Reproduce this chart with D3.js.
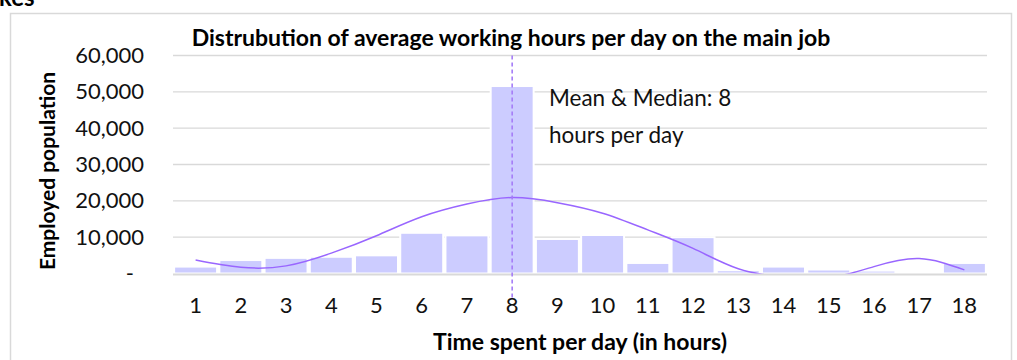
<!DOCTYPE html>
<html>
<head>
<meta charset="utf-8">
<script src="https://cdn.jsdelivr.net/npm/d3@7"></script>
<style>
  html, body { margin: 0; padding: 0; background: #fff; }
  svg { display: block; font-family: "Lato", "Noto Sans", sans-serif; }
</style>
</head>
<body>
<svg id="chart" width="1017" height="360"></svg>
<script>
// Hours worked per day (bins) and the employed population in each bin
const hours = [1, 2, 3, 4, 5, 6, 7, 8, 9, 10, 11, 12, 13, 14, 15, 16, 17, 18];
const population = [1900, 3700, 4300, 4600, 5000, 11200, 10500, 51600, 9500, 10600,
                    2900, 10000, 900, 1900, 1100, 800, 0, 2900];
// Smoothed trend through the distribution
const trend = [3700, 1700, 2100, 5600, 10400, 15600, 19100, 20900, 19500, 16600,
               12000, 6900, 1300, -1000, -1200, 1900, 4100, 1000];
const yTicks = [0, 10000, 20000, 30000, 40000, 50000, 60000];
const meanHours = 8;

const svg = d3.select("#chart");

const plot = { left: 173, right: 987, top: 55.5, bottom: 273.5 };

const x = d3.scaleBand()
  .domain(hours)
  .range([plot.left, plot.right])
  .paddingInner(0.05)
  .paddingOuter(0.025);

const y = d3.scaleLinear()
  .domain([0, 60000])
  .range([plot.bottom, plot.top]);

const cx = d => x(d) + x.bandwidth() / 2;

// Heading running off the top edge
svg.append("text")
  .attr("x", -1).attr("y", 6)
  .attr("font-size", 24).attr("font-weight", 700)
  .text("kes");

// Chart frame
svg.append("rect")
  .attr("x", 10.5).attr("y", 13.5)
  .attr("width", 1001).attr("height", 360)
  .attr("fill", "#fff").attr("stroke", "#d9d9d9").attr("stroke-width", 1.5);

// Gridlines
svg.append("g")
  .selectAll("line")
  .data(yTicks.filter(d => d > 0))
  .join("line")
  .attr("x1", plot.left).attr("x2", plot.right)
  .attr("y1", d => y(d)).attr("y2", d => y(d))
  .attr("stroke", "#d9d9d9")
  .attr("stroke-width", 1.4);

// Y tick labels
svg.append("g")
  .selectAll("text")
  .data(yTicks)
  .join("text")
  .attr("x", d => d === 0 ? 134 : 144)
  .attr("y", d => y(d) + 7.5)
  .attr("text-anchor", "end")
  .attr("font-size", 22)
  .attr("fill", "#111")
  .text(d => d === 0 ? "-" : d3.format(",")(d));

// Bars
svg.append("g")
  .selectAll("rect")
  .data(hours)
  .join("rect")
  .attr("x", d => x(d))
  .attr("width", x.bandwidth())
  .attr("y", (d, i) => y(population[i]))
  .attr("height", (d, i) => y(0) - y(population[i]))
  .attr("fill", "#ccccff")
  .attr("stroke", (d, i) => population[i] > 0 ? "#fff" : "none")
  .attr("stroke-width", 2);

// Baseline
svg.append("line")
  .attr("x1", plot.left).attr("x2", plot.right)
  .attr("y1", y(0) + 1).attr("y2", y(0) + 1)
  .attr("stroke", "#d9d9d9")
  .attr("stroke-width", 1.8);

// Trend curve, clipped to the plotting area
svg.append("clipPath").attr("id", "plot-clip")
  .append("rect")
  .attr("x", plot.left).attr("y", plot.top - 40)
  .attr("width", plot.right - plot.left)
  .attr("height", plot.bottom - plot.top + 40);

const line = d3.line()
  .x((d, i) => cx(hours[i]))
  .y(d => y(d))
  .curve(d3.curveNatural);

svg.append("path")
  .datum(trend)
  .attr("clip-path", "url(#plot-clip)")
  .attr("d", line)
  .attr("fill", "none")
  .attr("stroke", "#9966ff")
  .attr("stroke-width", 1.5);

// Mean / median marker
svg.append("line")
  .attr("x1", cx(meanHours)).attr("x2", cx(meanHours))
  .attr("y1", y(60000)).attr("y2", y(0) + 24)
  .attr("stroke", "#a57cf7")
  .attr("stroke-width", 1.6)
  .attr("stroke-dasharray", "4,3");

const note = svg.append("text")
  .attr("x", 549).attr("y", 106)
  .attr("font-size", 22.5)
  .attr("fill", "#111");
note.append("tspan").attr("x", 549).attr("dy", 0).text("Mean & Median: " + meanHours);
note.append("tspan").attr("x", 549).attr("dy", 36.7).text("hours per day");

// X tick labels
svg.append("g")
  .selectAll("text")
  .data(hours)
  .join("text")
  .attr("x", d => cx(d))
  .attr("y", 313)
  .attr("text-anchor", "middle")
  .attr("font-size", 22)
  .attr("fill", "#111")
  .text(d => d);

// Title
svg.append("text")
  .attr("x", 511).attr("y", 46)
  .attr("text-anchor", "middle")
  .attr("font-size", 23).attr("font-weight", 700)
  .attr("fill", "#000")
  .text("Distrubution of average working hours per day on the main job");

// Axis titles
svg.append("text")
  .attr("x", (plot.left + plot.right) / 2).attr("y", 350)
  .attr("text-anchor", "middle")
  .attr("font-size", 23).attr("font-weight", 700)
  .attr("fill", "#000")
  .text("Time spent per day (in hours)");

svg.append("text")
  .attr("transform", "translate(55,171) rotate(-90)")
  .attr("text-anchor", "middle")
  .attr("font-size", 21).attr("font-weight", 700)
  .attr("fill", "#000")
  .text("Employed population");
</script>
</body>
</html>
